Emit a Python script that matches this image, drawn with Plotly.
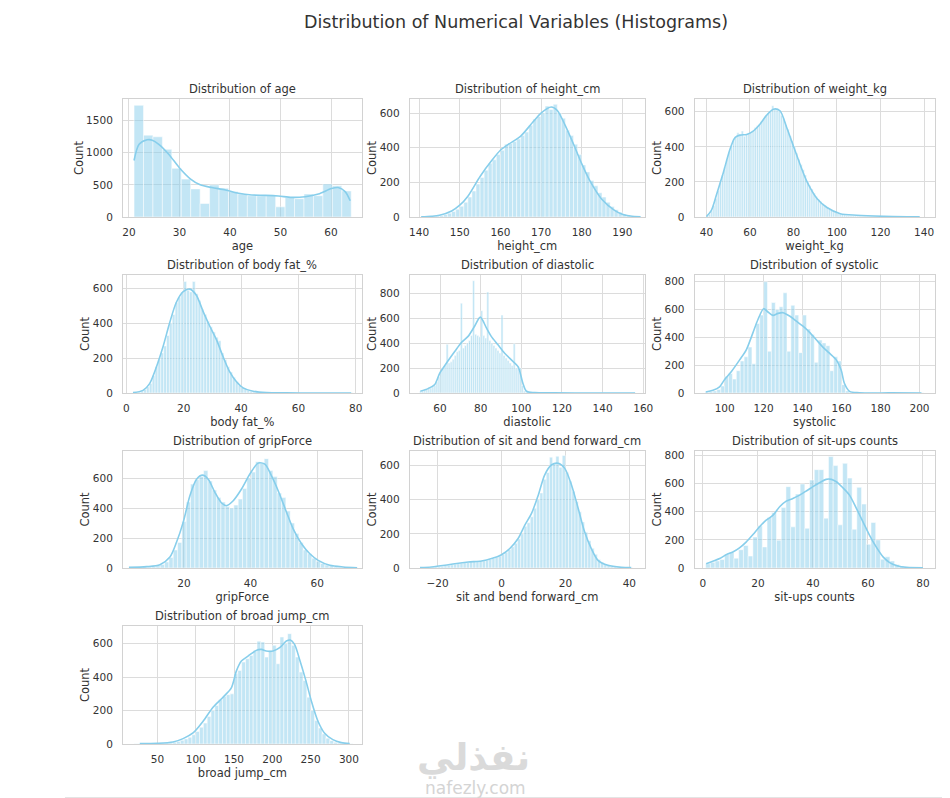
import plotly.graph_objects as go

FONT = "DejaVu Sans"
TXT = "#333333"
BAR_FILL = "rgba(135,206,235,0.5)"
KDE_COLOR = "#87CEEB"

# ---------------- data ----------------
main_title = "Distribution of Numerical Variables (Histograms)"
variables = ["age", "height_cm", "weight_kg", "body fat_%", "diastolic", "systolic",
             "gripForce", "sit and bend forward_cm", "sit-ups counts", "broad jump_cm"]

# age
age_bin_start = 21.0
age_bin_width = 43.0 / 23
age_counts = [1737, 1273, 1247, 1052, 757, 589, 437, 210, 500, 447, 395, 358, 331, 331,
              331, 158, 305, 284, 358, 331, 515, 484, 405]
age_kde_x = [21, 22, 23.6, 24.6, 25.9, 27.9, 30, 32.2, 34.1, 36.4, 39.1, 41.7, 44.3, 47,
             49.6, 52.2, 54.9, 57.5, 60.1, 61.4, 62.8, 63.8]
age_kde_y = [878, 1130, 1200, 1195, 1130, 973, 763, 590, 500, 458, 420, 368, 342, 337,
             326, 305, 316, 358, 442, 458, 395, 252]

# height_cm
height_bin_start = 141.0
height_bin_width = 1.0
height_counts = [2, 3, 4, 6, 9, 14, 22, 32, 45, 62, 85, 115, 150, 190, 228, 270, 310, 330,
                 360, 385, 420, 425, 435, 450, 470, 490, 530, 565, 580, 600, 640, 620, 650,
                 600, 570, 500, 470, 420, 360, 300, 260, 210, 180, 140, 115, 85, 60, 42, 28,
                 18, 10, 6, 3]
height_kde_x = [140.5, 143, 145, 148, 150, 152, 155, 158, 160, 162, 165, 168, 170, 172.5,
                174, 176, 178, 180, 182, 185, 188, 190, 192, 194.5]
height_kde_y = [1, 4, 10, 35, 68, 120, 234, 330, 385, 420, 467, 548, 600, 635, 615, 526,
                420, 308, 210, 101, 40, 16, 6, 1]

# weight_kg
weight_bin_start = 40.0
weight_bin_width = 1.0
weight_counts = [5, 15, 35, 65, 105, 150, 195, 240, 285, 330,
                 370, 405, 440, 460, 480, 470, 490, 460, 470, 475,
                 480, 490, 510, 520, 530, 545, 560, 575, 590, 600,
                 635, 615, 610, 605, 580, 560, 525, 500, 460, 435,
                 400, 365, 330, 300, 270, 240, 205, 180, 160, 135,
                 115, 100, 88, 75, 65, 55, 45, 38, 30, 25,
                 20, 17, 14, 12, 10, 9, 8, 7, 6, 5,
                 5, 4, 4, 3, 3, 3, 2, 2, 2, 2,
                 2, 1, 1, 1, 1, 1, 1, 1, 0, 1,
                 0, 1, 0, 1, 0, 0, 1, 1]
weight_kde_x = [40, 42.3, 44.6, 47.7, 50.8, 53.1, 55.4, 58.5, 61.5, 64.6, 67.7, 70.8, 73.8,
                76.9, 80, 83.1, 86.2, 90.8, 95.4, 101.5, 109, 121.5, 138]
weight_kde_y = [2, 38, 125, 250, 385, 452, 467, 471, 490, 529, 581, 615, 606, 510, 404,
                298, 202, 106, 54, 19, 10, 4, 1]

# body fat_%
fat_bin_start = 3.0
fat_bin_width = 1.0
fat_counts = [3, 6, 12, 20, 35, 55, 100, 150, 190, 230,
              270, 330, 400, 450, 520, 550, 580, 640, 590, 580,
              640, 570, 530, 480, 450, 410, 380, 350, 320, 300,
              230, 190, 150, 120, 90, 65, 45, 32, 22, 15,
              10, 7, 5, 4, 3, 2, 2, 1, 1, 1,
              1, 0, 1, 0, 0, 1, 0, 0, 0, 0,
              0, 0, 0, 0, 0, 0, 0, 0, 0, 0,
              0, 0, 0, 0, 0, 1]
fat_kde_x = [2.3, 5.8, 8.1, 10.5, 12.8, 15.1, 17.4, 19.8, 22.1, 24.4, 26.7, 29.1, 31.4,
             33.7, 36, 38.4, 40.7, 44.2, 48.8, 55.8, 65, 78.4]
fat_kde_y = [2, 15, 54, 151, 267, 403, 519, 581, 596, 561, 470, 383, 306, 209, 122, 64,
             29, 10, 2, 0.5, 0.2, 0]

# diastolic
dia_bin_start = 50.0
dia_bin_width = 1.0
dia_counts = [15, 20, 25, 30, 35, 40, 50, 60, 90, 130,
              170, 200, 220, 390, 240, 250, 270, 300, 330, 340,
              720, 360, 380, 400, 420, 460, 900, 470, 460, 450,
              660, 460, 440, 810, 420, 400, 380, 360, 340, 320,
              625, 300, 280, 260, 240, 220, 395, 200, 210, 200,
              60, 15, 5, 3, 2, 2, 1, 1, 1, 1,
              1, 1, 0, 1, 0, 0, 1, 0, 0, 0,
              0, 0, 0, 0, 0, 0, 0, 0, 0, 0,
              0, 0, 0, 0, 0, 0, 0, 0, 0, 0,
              0, 0, 0, 0, 0, 0, 0, 0, 0, 0,
              0, 0, 0, 0, 0, 1]
dia_kde_x = [50.3, 54.1, 57.4, 59.8, 63.1, 67.2, 70.5, 73.8, 77, 79.8, 82.8, 85.2, 88.5,
             91.8, 95.1, 98.4, 100.8, 102.5, 106.6, 116, 135, 156]
dia_kde_y = [14, 35, 68, 157, 238, 332, 405, 454, 535, 608, 522, 454, 386, 319, 265, 211,
             76, 14, 3, 1, 0.3, 0]

# systolic
sys_bin_start = 90.0
sys_bin_width = 2.0
sys_counts = [5, 10, 15, 25, 50, 120, 140, 100, 160, 230,
              260, 330, 210, 500, 560, 800, 300, 650, 600, 620,
              720, 300, 630, 560, 290, 560, 460, 420, 220, 380,
              360, 340, 160, 260, 230, 60, 15, 5, 3, 2,
              2, 1, 1, 1, 0, 1, 0, 1, 0, 0,
              1, 0, 0, 0, 0, 1]
sys_kde_x = [90.3, 94, 97.4, 100, 103.4, 107.7, 111.1, 114.5, 117.1, 120, 122.2, 124.8,
             127.4, 129.9, 133.3, 136.8, 140.2, 143.6, 147, 150.4, 153.8, 157.3, 159.8,
             161.5, 164.1, 169.2, 185, 201]
sys_kde_y = [7, 19, 44, 97, 153, 238, 310, 432, 528, 606, 582, 558, 572, 577, 553, 516,
             480, 436, 383, 330, 286, 238, 165, 68, 12, 2, 0.5, 0]

# gripForce
grip_bin_start = 5.1
grip_bin_width = 1.3
grip_counts = [3, 4, 6, 8, 11, 16, 24, 40, 70, 120,
               170, 310, 440, 560, 590, 610, 650, 580, 520, 470,
               440, 410, 400, 420, 460, 530, 600, 640, 710, 700,
               730, 650, 610, 500, 470, 380, 300, 230, 170, 120,
               95, 65, 45, 30, 20, 13, 8, 5, 3, 2]
grip_kde_x = [3.5, 8.8, 12.8, 15.8, 17.8, 19.8, 21.8, 23.8, 25.6, 27.3, 29.3, 31.3, 32.8,
              34.8, 37.3, 39.8, 42.3, 44.3, 46.3, 48.3, 50.8, 52.8, 55.3, 57.8, 60.3,
              63.8, 67.8, 72.0]
grip_kde_y = [4, 9, 22, 73, 173, 306, 483, 593, 620, 593, 505, 434, 416, 449, 527, 627,
              700, 693, 615, 516, 372, 261, 162, 95, 51, 18, 7, 2]

# sit and bend forward_cm
bend_bin_start = -25.0
bend_bin_width = 1.0
bend_counts = [2, 3, 4, 5, 7, 8, 10, 13, 16, 19,
               22, 25, 28, 31, 34, 36, 38, 40, 42, 42,
               45, 50, 56, 62, 70, 80, 92, 108, 125, 145,
               170, 200, 245, 265, 300, 350, 400, 440, 520, 560,
               650, 610, 655, 590, 660, 560, 510, 450, 390, 330,
               270, 210, 160, 115, 80, 50, 32, 20, 14, 9,
               6, 4, 3, 2, 2, 1]
bend_kde_x = [-25.5, -21.9, -17.7, -14.6, -10.4, -6.25, -3.1, 0, 2.6, 5.2, 7.3, 9.4, 11.5,
              13.5, 15.6, 17.7, 19.8, 21.9, 24, 26, 28.1, 30.2, 33.3, 37.5, 40.6]
bend_kde_y = [2, 6, 16, 25, 35, 41, 55, 78, 114, 173, 251, 320, 427, 545, 604, 614, 584,
              486, 349, 212, 114, 45, 16, 4, 2]

# sit-ups counts
situp_bin_start = 1.0
situp_bin_width = 79.0 / 46
situp_counts = [30, 40, 50, 60, 100, 110, 70, 130, 160, 85,
                220, 300, 150, 360, 395, 198, 430, 579, 293, 526,
                598, 283, 626, 700, 700, 355, 793, 729, 307, 745,
                640, 276, 574, 455, 169, 324, 200, 62, 80, 50,
                25, 15, 8, 4, 2, 1]
situp_kde_x = [1.2, 3.6, 6.1, 8.5, 10.9, 13.3, 15.8, 18.2, 20.6, 23, 25.5, 27.9, 30.3,
               32.7, 35.2, 37.6, 40, 42.4, 44.8, 46.7, 48.5, 50.9, 53.3, 55.8, 58.2, 60.6,
               63, 65.5, 67.9, 70.9, 73.9, 80]
situp_kde_y = [31, 48, 67, 95, 114, 143, 186, 238, 293, 340, 376, 436, 476, 495, 519, 548,
               579, 607, 631, 631, 614, 571, 519, 424, 329, 233, 150, 79, 38, 14, 5, 2]

# broad jump_cm
jump_bin_start = 20.0
jump_bin_width = 5.0
jump_counts = [1, 1, 2, 2, 3, 3, 4, 5, 6, 8,
               11, 15, 22, 30, 40, 55, 75, 100, 125, 165,
               200, 230, 265, 285, 295, 300, 420, 440, 490, 510,
               530, 560, 615, 610, 520, 560, 590, 480, 640, 600,
               660, 590, 520, 430, 380, 280, 200, 140, 95, 60,
               35, 20, 10, 6, 3, 2, 1]
jump_kde_x = [27, 50, 70.4, 83.5, 96.5, 109.6, 122.6, 135.7, 146.5, 153, 159.6, 168.3,
              179, 185.7, 192, 200.9, 209.6, 218.3, 223.5, 229, 235.6, 244, 251, 259.6,
              268, 279, 290, 301]
jump_kde_y = [2, 4, 12, 32, 66, 136, 220, 280, 336, 436, 496, 526, 560, 566, 556, 556,
              576, 616, 622, 596, 506, 376, 256, 136, 66, 26, 8, 2]

# ---------------- panel table built from the arrays ----------------
panel_data = [
    (age_bin_start, age_bin_width, age_counts, age_kde_x, age_kde_y),
    (height_bin_start, height_bin_width, height_counts, height_kde_x, height_kde_y),
    (weight_bin_start, weight_bin_width, weight_counts, weight_kde_x, weight_kde_y),
    (fat_bin_start, fat_bin_width, fat_counts, fat_kde_x, fat_kde_y),
    (dia_bin_start, dia_bin_width, dia_counts, dia_kde_x, dia_kde_y),
    (sys_bin_start, sys_bin_width, sys_counts, sys_kde_x, sys_kde_y),
    (grip_bin_start, grip_bin_width, grip_counts, grip_kde_x, grip_kde_y),
    (bend_bin_start, bend_bin_width, bend_counts, bend_kde_x, bend_kde_y),
    (situp_bin_start, situp_bin_width, situp_counts, situp_kde_x, situp_kde_y),
    (jump_bin_start, jump_bin_width, jump_counts, jump_kde_x, jump_kde_y),
]

# axis view settings (style / layout, not data)
x_ranges = [[18.8, 66.1], [137.7, 195.5], [34.6, 144.8], [-1.2, 82.1], [45.1, 160.7],
            [84.6, 207.7], [1.7, 73.4], [-28.7, 44.8], [-3.0, 84.2], [5.0, 316.8]]
x_dticks = [10, 10, 20, 20, 20, 20, 20, 20, 20, 50]
y_ranges = [[0, 1835], [0, 681], [0, 673], [0, 677], [0, 946], [0, 848], [0, 781],
            [0, 686], [0, 833], [0, 706]]
y_dticks = [500, 200, 200, 200, 200, 200, 200, 200, 200, 200]

W, H = 950, 798


def fpx(screen_px):
    """screen pixel (as photographed) -> figure pixel (page margin / capture scale)"""
    return (screen_px - 9.0) / 0.99


col_px = [(123, 362), (410, 645), (695, 935)]
row_px = [(98, 216), (274, 392), (450, 567), (625, 743)]

fig = go.Figure()
annotations = []
layout_axes = {}

for i, (b0, bw, counts, kx, ky) in enumerate(panel_data):
    n = i + 1
    r, c = divmod(i, 3)
    xs = "" if n == 1 else str(n)
    centers = [b0 + bw * (k + 0.5) for k in range(len(counts))]
    fig.add_trace(go.Bar(
        x=centers, y=counts, width=bw,
        marker=dict(color=BAR_FILL, line=dict(color="rgba(255,255,255,0.85)", width=0.6)),
        xaxis="x" + xs, yaxis="y" + xs, showlegend=False,
        hovertemplate="%{x:.1f}: %{y}<extra></extra>",
    ))
    fig.add_trace(go.Scatter(
        x=kx, y=ky, mode="lines",
        line=dict(color=KDE_COLOR, width=1.6, shape="spline", smoothing=0.8),
        xaxis="x" + xs, yaxis="y" + xs, showlegend=False, hoverinfo="skip",
    ))
    x0, x1 = col_px[c]
    yt, yb = row_px[r]
    xdom = [fpx(x0) / W, fpx(x1) / W]
    ydom = [1 - fpx(yb) / H, 1 - fpx(yt) / H]
    common = dict(
        showgrid=True, gridcolor="#dcdcdc", gridwidth=1,
        showline=True, linecolor="#d2d2d2", linewidth=1, mirror=True,
        zeroline=False, ticks="",
        tickfont=dict(family=FONT, size=10.5, color=TXT),
    )
    layout_axes["xaxis" + xs] = dict(
        common, domain=xdom, anchor="y" + xs, range=x_ranges[i],
        tick0=0, dtick=x_dticks[i], ticklabelstandoff=5,
        title=dict(text=variables[i], font=dict(family=FONT, size=11.5, color=TXT),
                   standoff=5),
    )
    layout_axes["yaxis" + xs] = dict(
        common, domain=ydom, anchor="x" + xs, range=y_ranges[i],
        tick0=0, dtick=y_dticks[i], ticklabelstandoff=7,
        title=dict(text="Count", font=dict(family=FONT, size=11.5, color=TXT),
                   standoff=0),
    )
    annotations.append(dict(
        text="Distribution of " + variables[i], xref="paper", yref="paper",
        x=(xdom[0] + xdom[1]) / 2, y=ydom[1], xanchor="center", yanchor="bottom",
        yshift=1, showarrow=False, font=dict(family=FONT, size=11.5, color=TXT),
    ))

annotations.append(dict(
    text=main_title, xref="paper", yref="paper", x=fpx(516) / W, y=1 - fpx(21) / H,
    xanchor="center", yanchor="middle", showarrow=False,
    font=dict(family=FONT, size=17.5, color=TXT),
))
# faint watermark
annotations.append(dict(
    text="<b>نفذلي</b>", xref="paper", yref="paper", x=fpx(474) / W, y=1 - fpx(757) / H,
    xanchor="center", yanchor="middle", showarrow=False,
    font=dict(family=FONT, size=37, color="#dadada"),
))
annotations.append(dict(
    text="nafezly.com", xref="paper", yref="paper", x=fpx(476) / W, y=1 - fpx(787) / H,
    xanchor="center", yanchor="middle", showarrow=False,
    font=dict(family=FONT, size=17, color="#d4d4d4"),
))

shapes = [
    dict(type="line", xref="paper", yref="paper", x0=fpx(65) / W, x1=1.0,
         y0=1 - fpx(797) / H, y1=1 - fpx(797) / H, line=dict(color="#cccccc", width=1)),
]

fig.update_layout(
    width=W, height=H, margin=dict(l=0, r=0, t=0, b=0),
    paper_bgcolor="white", plot_bgcolor="white",
    font=dict(family=FONT, color=TXT),
    annotations=annotations, shapes=shapes, showlegend=False,
    **layout_axes,
)

fig.write_html("out.html")
